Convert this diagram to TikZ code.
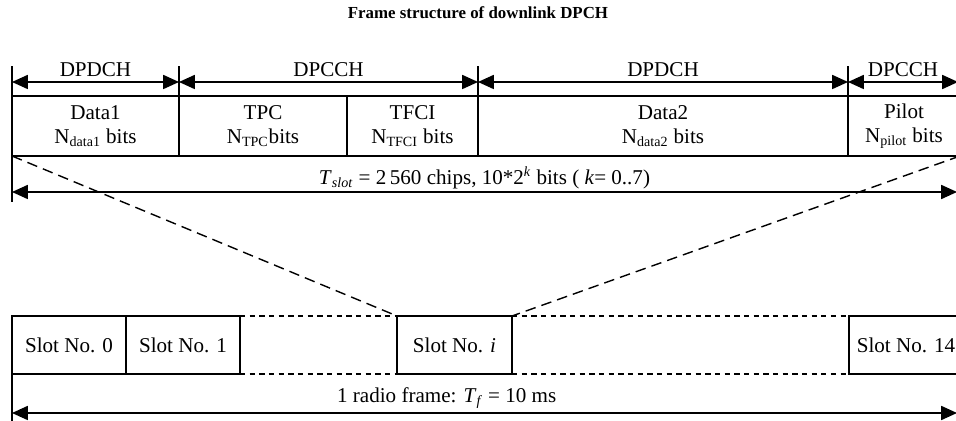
\documentclass[tikz,border=0pt]{standalone}
\usepackage{fontspec}
\setmainfont{Liberation Serif}
\usetikzlibrary{arrows.meta}

\tikzset{
    field/.style={draw, line width=0.9pt, outer sep=0pt, minimum height=1.2cm, align=center, inner sep=1pt},
    slot/.style={draw, line width=0.9pt, outer sep=0pt, minimum height=1.16cm, minimum width=2.28cm},
    gapline/.style={line width=0.8pt, dash pattern=on 3pt off 2.5pt},
    zoomline/.style={line width=0.8pt, dash pattern=on 6pt off 3.5pt},
}

\begin{document}
\begin{tikzpicture}[x=0.02cm, y=-0.02cm, >={Triangle[length=9pt,width=8pt]}, line width=0.8pt,
    font=\fontsize{12}{13.6}\selectfont]
        \useasboundingbox (0,0) rectangle (956,421);

        \node[font=\bfseries\fontsize{9.6}{11}\selectfont] (title) at (478,13) {Frame structure of downlink DPCH};

        % Slot fields
        \node[field, minimum width=3.34cm] (data1) at (95.5,126) {Data1\\N\textsubscript{data1} bits};
        \node[field, minimum width=3.36cm] (tpc) at (263,126) {TPC\\N\textsubscript{TPC}bits};
        \node[field, minimum width=2.62cm] (tfci) at (412.5,126) {TFCI\\N\textsubscript{TFCI} bits};
        \node[field, minimum width=7.4cm] (data2) at (663,126) {Data2\\N\textsubscript{data2} bits};
        \node[field, minimum width=2.24cm] (pilot) at (904,126) {Pilot\\N\textsubscript{pilot} bits};

        % Channel arrows
        \coordinate (a0) at (12,82);
        \coordinate (a1) at (179,82);
        \coordinate (a2) at (478,82);
        \coordinate (a3) at (848,82);
        \coordinate (a4) at (958,82);
        \foreach \b in {data1, tpc, data2, pilot}
            \draw (\b.north west) -- ++(0,-30);
        \draw[<->] (a0) -- node[above=-1pt] {DPDCH} (a1);
        \draw[<->] (a1) -- node[above=-1pt] {DPCCH} (a2);
        \draw[<->] (a2) -- node[above=-1pt] {DPDCH} (a3);
        \draw[<->] (a3) -- node[above=-1pt] {DPCCH} (a4);

        % Slot length
        \draw (data1.south west) -- ++(0,46);
        \coordinate (s0) at (12,192);
        \coordinate (s1) at (957,192);
        \draw[<->] (s0) -- node[above=-2pt] {\textit{T}\textsubscript{\textit{slot}} = 2\,560 chips, 10*2\textsuperscript{\textit{k}} bits ( \textit{k}= 0..7)} (s1);

        % Radio frame
        \node[slot] (slot0) at (69,345) {Slot No. 0};
        \node[slot] (slot1) at (183,345) {Slot No. 1};
        \node[slot, minimum width=2.3cm] (sloti) at (454.5,345) {Slot No. \textit{i}};
        \node[slot] (slot14) at (906,345) {Slot No. 14};
        \draw[gapline] (slot1.north east) -- (sloti.north west);
        \draw[gapline] (slot1.south east) -- (sloti.south west);
        \draw[gapline] (sloti.north east) -- (slot14.north west);
        \draw[gapline] (sloti.south east) -- (slot14.south west);

        % Zoom lines
        \draw[zoomline] (data1.south west) -- (sloti.north west);
        \draw[zoomline] (pilot.south east) -- (sloti.north east);

        % Frame length
        \draw (slot0.south west) -- ++(0,47);
        \coordinate (r0) at (12,413);
        \coordinate (r1) at (957,413);
        \draw[<->] (r0) -- node[above=-1pt, pos=0.46] {1 radio frame: \textit{T}\textsubscript{\textit{f}} = 10 ms} (r1);
    \end{tikzpicture}
\end{document}
